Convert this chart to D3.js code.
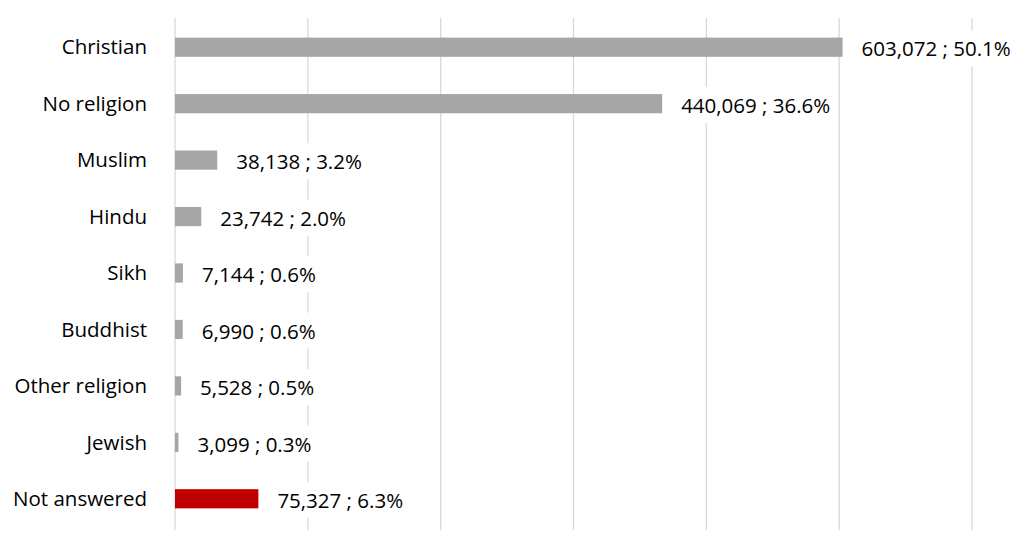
<!DOCTYPE html>
<html><head><meta charset="utf-8">
<script src="https://cdn.jsdelivr.net/npm/d3@7"></script>
<style>body{margin:0;background:#fff}</style></head>
<body><svg id="c" width="1024" height="538"></svg>
<script>
const categories=["Christian","No religion","Muslim","Hindu","Sikh","Buddhist","Other religion","Jewish","Not answered"];
const values=[603072,440069,38138,23742,7144,6990,5528,3099,75327];
const percents=["50.1%","36.6%","3.2%","2.0%","0.6%","0.6%","0.5%","0.3%","6.3%"];
const ticks=[0,120000,240000,360000,480000,600000,720000];
const colors=categories.map(c=>c==="Not answered"?"#c00000":"#a6a6a6");
const svg=d3.select("#c");
const x=d3.scaleLinear().domain([0,720000]).range([175,972]);
const y=d3.scaleBand().domain(categories).range([19,527]).paddingInner(0.66).paddingOuter(0.33);
svg.selectAll("line.g").data(ticks).join("line").attr("x1",d=>x(d)).attr("x2",d=>x(d))
 .attr("y1",18).attr("y2",530).attr("stroke","#d9d9d9").attr("stroke-width",1.3);
svg.selectAll("rect.b").data(values).join("rect").attr("x",x(0)).attr("y",(d,i)=>y(categories[i]))
 .attr("width",d=>x(d)-x(0)).attr("height",y.bandwidth()).attr("fill",(d,i)=>colors[i]);
const f="'Open Sans',sans-serif";
svg.selectAll("text.c").data(categories).join("text").attr("x",147).attr("y",d=>y(d)+y.bandwidth()/2)
 .attr("dy","0.35em").attr("text-anchor","end").attr("font-family",f).attr("font-size",20.5).attr("fill","#000").text(d=>d);
const lg=svg.selectAll("g.l").data(values).join("g");
lg.each(function(d,i){
 const g=d3.select(this);
 const t=g.append("text").attr("x",x(d)+19).attr("y",y(categories[i])+y.bandwidth()/2+2)
  .attr("dy","0.35em").attr("font-family",f).attr("font-size",20.5).attr("fill","#000")
  .text(d3.format(",")(d)+" ; "+percents[i]);
 const bb=t.node().getBBox();
 g.insert("rect","text").attr("x",bb.x-4).attr("y",bb.y-4).attr("width",bb.width+8).attr("height",bb.height+8).attr("fill","#fff");
});
</script></body></html>
